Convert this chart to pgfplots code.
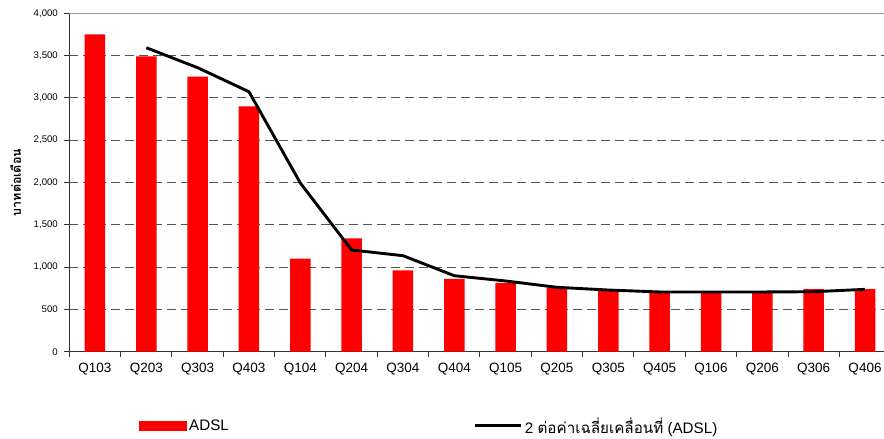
\documentclass[border=0pt]{standalone}
\usepackage{pgfplots}
\pgfplotsset{compat=1.18}
\usepackage{fontspec}
\setmainfont{Liberation Sans}
\newfontfamily\thaifont[Script=Thai]{Loma}
\definecolor{gridgray}{HTML}{555555}
\definecolor{topgray}{HTML}{9A9A9A}
\definecolor{axisgray}{HTML}{333333}
\begin{document}
\begin{tikzpicture}
\path[use as bounding box] (-69.3pt,-87.3pt) rectangle (814.7pt,351.7pt);
\begin{axis}[
  at={(0pt,0pt)}, anchor=south west,
  scale only axis, width=814.7pt, height=338.4pt,
  xmin=-0.5, xmax=15.37, ymin=0, ymax=4000,
  axis lines*=left,
  axis line style={axisgray, line width=1.3pt},
  tick align=outside,
  major tick length=5pt,
  tick style={axisgray, line width=1pt},
  xtick={-0.5,0.5,...,15.5},
  xticklabels={},
  extra x ticks={0,1,...,15},
  extra x tick labels={Q103,Q203,Q303,Q403,Q104,Q204,Q304,Q404,Q105,Q205,Q305,Q405,Q106,Q206,Q306,Q406},
  extra x tick style={major tick length=0pt, tick label style={font=\fontsize{13.5}{15}\selectfont, yshift=-8pt}},
  ytick={0,500,...,3500},
  ymajorgrids,
  major grid style={gridgray, line width=1pt, dash pattern=on 9pt off 5pt},
  extra y ticks={4000},
  extra y tick style={ymajorgrids=true, major grid style={topgray, line width=1.4pt, solid}},
  yticklabel style={font=\fontsize{9.6}{11}\selectfont, xshift=-3pt},
  /pgf/number format/.cd, 1000 sep={,}, assume math mode=true,
  /pgfplots/.cd,
  ylabel={\thaifont\bfseries บาทต่อเดือน},
  ylabel style={font=\fontsize{12.5}{14}\selectfont, at={(axis description cs:-0.066,0.5)}, anchor=center},
  legend style={at={(axis description cs:0.0856,-0.2195)}, anchor=west, draw=none, fill=none,
    inner sep=0pt, legend columns=2,
    nodes={inner sep=0pt, font=\fontsize{15.2}{17}\selectfont},
    /tikz/column sep=2pt,
    /tikz/every even column/.append style={column sep=245pt}},
  clip=false,
]
\addplot[ybar, bar width=20.5pt, fill=red, draw=none,
  legend image code/.code={\fill[red] (0pt,-4.75pt) rectangle (48pt,4.75pt);}]
  coordinates {(0,3750) (1,3490) (2,3250) (3,2900) (4,1100) (5,1340) (6,960) (7,860)
               (8,815) (9,757) (10,717) (11,700) (12,700) (13,700) (14,741) (15,741)};
\addlegendentry{ADSL}
\addplot[black, line width=2.9pt, line join=round,
  legend image code/.code={\draw[black, line width=3pt] (0pt,0pt) -- (46pt,0pt);}]
  coordinates {(1,3593) (2,3357) (3,3073) (4,1994) (5,1202) (6,1135) (7,898)
               (8,836) (9,761) (10,729) (11,706) (12,706) (13,706) (14,709) (15,737)};
\addlegendentry{2 {\thaifont ต่อค่าเฉลี่ยเคลื่อนที่} (ADSL)}
\end{axis}
\end{tikzpicture}
\end{document}
